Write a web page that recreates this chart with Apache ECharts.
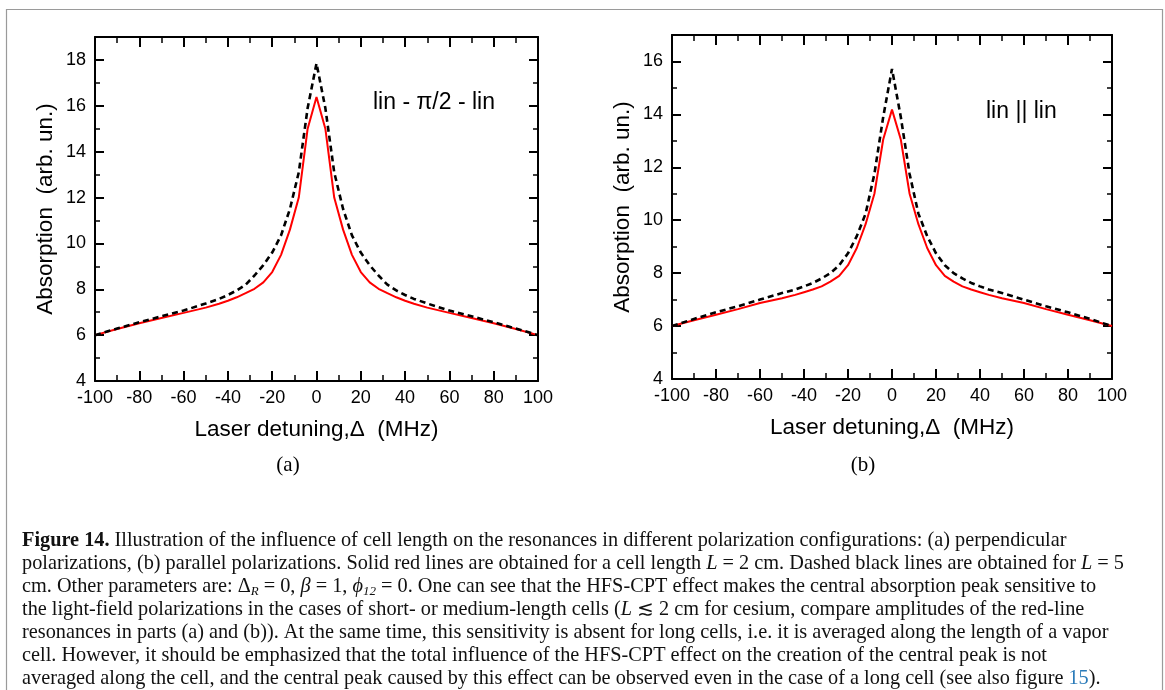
<!DOCTYPE html>
<html>
<head>
<meta charset="utf-8">
<script src="https://cdn.jsdelivr.net/npm/echarts@6/dist/echarts.min.js"></script>
<style>
  html, body { margin: 0; padding: 0; background: #fff; }
  #fig { width: 1165px; height: 690px; }
</style>
</head>
<body>
<div id="fig"></div>
<script>
// laser detuning (MHz), shared by all four curves
var detuning = [-100, -90, -80, -70, -60, -50, -44, -40, -36, -32, -28, -24, -20, -16, -12, -8, -4,
    0, 4, 8, 12, 16, 20, 24, 28, 32, 36, 40, 44, 50, 60, 70, 80, 90, 100];

// (a) lin - pi/2 - lin
var redA = [6.0, 6.27, 6.52, 6.75, 6.97, 7.2, 7.37, 7.5, 7.65, 7.83, 8.02, 8.3, 8.75, 9.5, 10.6, 12.0, 15.0,
    16.38, 15.0, 12.0, 10.6, 9.5, 8.75, 8.3, 8.02, 7.83, 7.65, 7.5, 7.37, 7.2, 6.97, 6.75, 6.52, 6.27, 6.0];
var dashA = [6.0, 6.29, 6.56, 6.82, 7.07, 7.38, 7.58, 7.75, 7.95, 8.2, 8.6, 9.05, 9.6, 10.35, 11.5, 13.1, 15.9,
    17.85, 15.9, 13.1, 11.5, 10.35, 9.6, 9.05, 8.6, 8.2, 7.95, 7.75, 7.58, 7.38, 7.07, 6.82, 6.56, 6.29, 6.0];

// (b) lin || lin
var redB = [6.0, 6.22, 6.43, 6.64, 6.87, 7.05, 7.18, 7.28, 7.38, 7.5, 7.68, 7.9, 8.3, 8.95, 9.85, 11.0, 13.05,
    14.18, 13.05, 11.0, 9.85, 8.95, 8.3, 7.9, 7.68, 7.5, 7.38, 7.28, 7.18, 7.05, 6.87, 6.64, 6.43, 6.22, 6.0];
var dashB = [6.0, 6.27, 6.52, 6.75, 7.0, 7.25, 7.38, 7.5, 7.63, 7.8, 8.0, 8.3, 8.75, 9.4, 10.25, 11.75, 13.9,
    15.72, 13.9, 11.75, 10.25, 9.4, 8.75, 8.3, 8.0, 7.8, 7.63, 7.5, 7.38, 7.25, 7.0, 6.75, 6.52, 6.27, 6.0];

var yMaxA = 19;
var yMaxB = 17;

var captionLines = [
    '{b|Figure 14.} Illustration of the influence of cell length on the resonances in different polarization configurations: (a) perpendicular',
    'polarizations, (b) parallel polarizations. Solid red lines are obtained for a cell length {i|L} = 2 cm. Dashed black lines are obtained for {i|L} = 5',
    'cm. Other parameters are: Δ{sub|R} = 0, {i|β} = 1, {i|ϕ}{sub|12} = 0. One can see that the HFS-CPT effect makes the central absorption peak sensitive to',
    'the light-field polarizations in the cases of short- or medium-length cells ({i|L} ≲ 2 cm for cesium, compare amplitudes of the red-line',
    'resonances in parts (a) and (b)). At the same time, this sensitivity is absent for long cells, i.e. it is averaged along the length of a vapor',
    'cell. However, it should be emphasized that the total influence of the HFS-CPT effect on the creation of the central peak is not',
    'averaged along the cell, and the central peak caused by this effect can be observed even in the case of a long cell (see also figure {lnk|15}).'
];

var sans = '"Liberation Sans", Arial, sans-serif';
var serif = '"Liberation Serif", "Times New Roman", serif';
var capSize = 20.3;

function pairs(ys) {
    var out = [];
    for (var i = 0; i < detuning.length; i++) {
        out.push([detuning[i], ys[i]]);
    }
    return out;
}

var black = { color: '#000', width: 2 };

function xAxisFor(grid, pos) {
    var bottom = pos === 'bottom';
    return {
        gridIndex: grid, type: 'value', position: pos,
        min: -100, max: 100, interval: 20,
        axisLine: { onZero: false, lineStyle: black },
        axisTick: { inside: true, length: 10, lineStyle: black },
        minorTick: { show: true, splitNumber: 2, length: 6, lineStyle: { color: '#000', width: 1.5 } },
        splitLine: { show: false },
        axisLabel: { show: bottom, color: '#000', fontSize: 18, fontFamily: sans, margin: 8 },
        name: bottom ? 'Laser detuning,Δ  (MHz)' : '',
        nameLocation: 'middle', nameGap: 37,
        nameTextStyle: { color: '#000', fontSize: 22.5, fontFamily: sans }
    };
}

function yAxisFor(grid, pos, ymax, major) {
    var labelled = major && pos === 'left';
    return {
        gridIndex: grid, type: 'value', position: pos,
        min: 4, max: ymax, interval: major ? 2 : 1,
        axisLine: { show: major, onZero: false, lineStyle: black },
        axisTick: { inside: true, length: major ? 9 : 5, lineStyle: { color: '#000', width: major ? 2 : 1.5 } },
        splitLine: { show: false },
        axisLabel: { show: labelled, showMaxLabel: false, color: '#000', fontSize: 18, fontFamily: sans, margin: 9 },
        name: labelled ? 'Absorption  (arb. un.)' : '',
        nameLocation: 'middle', nameGap: 38,
        nameTextStyle: { color: '#000', fontSize: 22.5, fontFamily: sans }
    };
}

function curve(grid, yIndex, ys, dashed) {
    return {
        type: 'line', xAxisIndex: grid * 2, yAxisIndex: yIndex,
        data: pairs(ys), showSymbol: false, animation: false,
        lineStyle: dashed
            ? { color: '#000', width: 2.6, type: [6, 4] }
            : { color: '#ff0000', width: 2 }
    };
}

var chart = echarts.init(document.getElementById('fig'), null, { renderer: 'canvas' });

var graphics = [
    { type: 'rect', shape: { x: 6.5, y: 9.5, width: 1156, height: 700 },
      style: { fill: 'none', stroke: '#9a9a9a', lineWidth: 1.2 }, silent: true },
    { type: 'text', x: 288, y: 465,
      style: { text: '(a)', font: '21px ' + serif, fill: '#000', align: 'center', verticalAlign: 'middle' } },
    { type: 'text', x: 863, y: 465,
      style: { text: '(b)', font: '21px ' + serif, fill: '#000', align: 'center', verticalAlign: 'middle' } },
    { type: 'text', x: 373, y: 103,
      style: { text: 'lin - π/2 - lin', font: '23px ' + sans, fill: '#000', align: 'left', verticalAlign: 'middle' } },
    { type: 'text', x: 986, y: 112,
      style: { text: 'lin || lin', font: '23px ' + sans, fill: '#000', align: 'left', verticalAlign: 'middle' } }
];

for (var k = 0; k < captionLines.length; k++) {
    graphics.push({
        type: 'text', x: 22, y: 541 + k * 23,
        style: {
            text: captionLines[k],
            fill: '#111', fontSize: capSize, fontFamily: serif,
            align: 'left', verticalAlign: 'middle', lineHeight: 23,
            rich: {
                b: { fontWeight: 'bold', fontSize: capSize, fontFamily: serif, lineHeight: 23 },
                i: { fontStyle: 'italic', fontSize: capSize, fontFamily: serif, lineHeight: 23 },
                sub: { fontStyle: 'italic', fontSize: 13, fontFamily: serif, verticalAlign: 'bottom' },
                lnk: { fill: '#2b7bb9', color: '#2b7bb9', fontSize: capSize, fontFamily: serif, lineHeight: 23 }
            }
        }
    });
}

var option = {
    backgroundColor: '#fff',
    animation: false,
    grid: [
        { left: 95, top: 37, width: 443, height: 344 },
        { left: 672, top: 35, width: 440, height: 344 }
    ],
    xAxis: [
        xAxisFor(0, 'bottom'), xAxisFor(0, 'top'),
        xAxisFor(1, 'bottom'), xAxisFor(1, 'top')
    ],
    yAxis: [
        yAxisFor(0, 'left', yMaxA, true), yAxisFor(0, 'left', yMaxA, false),
        yAxisFor(0, 'right', yMaxA, true), yAxisFor(0, 'right', yMaxA, false),
        yAxisFor(1, 'left', yMaxB, true), yAxisFor(1, 'left', yMaxB, false),
        yAxisFor(1, 'right', yMaxB, true), yAxisFor(1, 'right', yMaxB, false)
    ],
    series: [
        curve(0, 0, redA, false),
        curve(0, 0, dashA, true),
        curve(1, 4, redB, false),
        curve(1, 4, dashB, true)
    ],
    graphic: graphics
};

option && chart.setOption(option, true);
</script>
</body>
</html>
